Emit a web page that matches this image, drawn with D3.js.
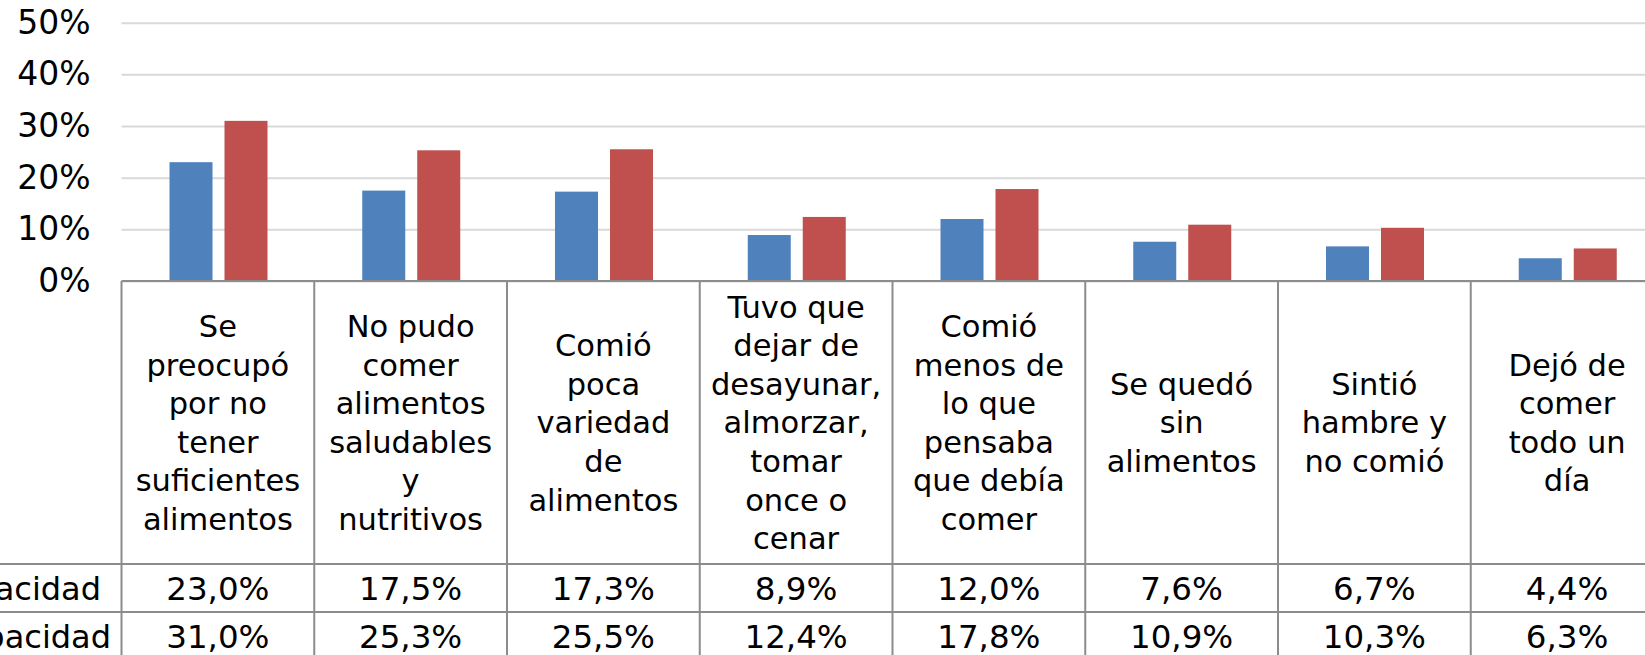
<!DOCTYPE html>
<html>
<head>
<meta charset="utf-8">
<script src="https://cdn.jsdelivr.net/npm/d3@7"></script>
<style>
  html, body { margin: 0; padding: 0; background: #fff; overflow: hidden; }
  svg { display: block; font-family: "DejaVu Sans", Verdana, sans-serif; }
</style>
</head>
<body>
<svg id="chart" width="1645" height="655"></svg>
<script>
// ---- Data ----
const categories = [
  "Se preocupó por no tener suficientes alimentos",
  "No pudo comer alimentos saludables y nutritivos",
  "Comió poca variedad de alimentos",
  "Tuvo que dejar de desayunar, almorzar, tomar once o cenar",
  "Comió menos de lo que pensaba que debía comer",
  "Se quedó sin alimentos",
  "Sintió hambre y no comió",
  "Dejó de comer todo un día"
];
const categoryLines = [
  ["Se", "preocupó", "por no", "tener", "suficientes", "alimentos"],
  ["No pudo", "comer", "alimentos", "saludables", "y", "nutritivos"],
  ["Comió", "poca", "variedad", "de", "alimentos"],
  ["Tuvo que", "dejar de", "desayunar,", "almorzar,", "tomar", "once o", "cenar"],
  ["Comió", "menos de", "lo que", "pensaba", "que debía", "comer"],
  ["Se quedó", "sin", "alimentos"],
  ["Sintió", "hambre y", "no comió"],
  ["Dejó de", "comer", "todo un", "día"]
];
const seriesNames = ["acidad", "pacidad"];   // visible (cropped) row labels
const series1 = [0.230, 0.175, 0.173, 0.089, 0.120, 0.076, 0.067, 0.044];
const series2 = [0.310, 0.253, 0.255, 0.124, 0.178, 0.109, 0.103, 0.063];
const yTicks = [0, 0.1, 0.2, 0.3, 0.4, 0.5];
const colors = ["#4F81BD", "#C0504D"];

// ---- Layout ----
const W = 1645, H = 655;
const plotLeft = 121.5, plotRight = 1663.5;
const yTop = 22.7, yBase = 281;
const rowLines = [564, 612, 660];

const svg = d3.select("#chart");
const locale = d3.formatLocale({ decimal: ",", thousands: ".", grouping: [3], currency: ["$", ""] });
const fmtVal = locale.format(".1%");
const fmtTick = locale.format(".0%");

const x0 = d3.scaleBand().domain(categories).range([plotLeft, plotRight]).padding(0);
const x1 = d3.scaleBand().domain([0, 1]).range([48, 146]).paddingInner(0.218).paddingOuter(0);
const y = d3.scaleLinear().domain([0, 0.5]).range([yBase, yTop]);

// gridlines + y labels
const yAxis = d3.axisLeft(y)
  .tickValues(yTicks)
  .tickFormat(fmtTick)
  .tickSizeInner(-(plotRight - plotLeft))
  .tickSizeOuter(0)
  .tickPadding(31);
const gy = svg.append("g").attr("transform", `translate(${plotLeft},0)`).call(yAxis);
gy.select(".domain").remove();
gy.selectAll(".tick line").attr("stroke", "#d9d9d9").attr("stroke-width", 2);
gy.selectAll(".tick text")
  .attr("fill", "#000")
  .style("font-size", "33px")
  .style("font-family", "'DejaVu Sans', Verdana, sans-serif");

// bars
const data = categories.map((c, i) => ({ c, vals: [series1[i], series2[i]] }));
const groups = svg.append("g").selectAll("g").data(data).join("g")
  .attr("transform", d => `translate(${x0(d.c)},0)`);
groups.selectAll("rect").data(d => d.vals.map((v, k) => ({ v, k }))).join("rect")
  .attr("x", d => x1(d.k))
  .attr("width", x1.bandwidth())
  .attr("y", d => y(d.v))
  .attr("height", d => y(0) - y(d.v))
  .attr("fill", d => colors[d.k]);

// axis line / table top
const lineColor = "#8c8c8c";
svg.append("line")
  .attr("x1", plotLeft).attr("x2", plotRight)
  .attr("y1", yBase).attr("y2", yBase)
  .attr("stroke", lineColor).attr("stroke-width", 2);

// table verticals
const bounds = categories.map(c => x0(c)).concat([x0(categories[categories.length - 1]) + x0.bandwidth()]);
svg.append("g").selectAll("line").data(bounds).join("line")
  .attr("x1", d => d).attr("x2", d => d)
  .attr("y1", yBase).attr("y2", H + 10)
  .attr("stroke", lineColor).attr("stroke-width", 2);

// table horizontals
svg.append("g").selectAll("line").data(rowLines).join("line")
  .attr("x1", 0).attr("x2", plotRight)
  .attr("y1", d => d).attr("y2", d => d)
  .attr("stroke", lineColor).attr("stroke-width", 2);

// category labels (centered in header cell)
const lh = 38.6;
const headCenter = (yBase + rowLines[0]) / 2;
const catG = svg.append("g")
  .style("font-size", "30.5px")
  .attr("text-anchor", "middle")
  .attr("fill", "#000");
categories.forEach((c, i) => {
  const lines = categoryLines[i];
  const n = lines.length;
  const cx = x0(c) + x0.bandwidth() / 2;
  const t = catG.append("text").attr("x", cx).attr("y", headCenter);
  lines.forEach((ln, j) => {
    t.append("tspan")
      .attr("x", cx)
      .attr("y", headCenter + (j - (n - 1) / 2) * lh)
      .attr("dy", "0.36em")
      .text(ln);
  });
});

// table values
const seriesData = [series1, series2];
seriesData.forEach((s, r) => {
  const cy = (rowLines[r] + rowLines[r + 1]) / 2;
  svg.append("g").selectAll("text").data(s).join("text")
    .attr("x", (d, i) => x0(categories[i]) + x0.bandwidth() / 2)
    .attr("y", cy)
    .attr("dy", "0.36em")
    .attr("text-anchor", "middle")
    .style("font-size", "32.5px")
    .attr("fill", "#000")
    .text(d => fmtVal(d));
});

// row labels (cropped at the left edge in the reference)
const labelEnds = [101, 111];
seriesNames.forEach((name, r) => {
  const cy = (rowLines[r] + rowLines[r + 1]) / 2;
  svg.append("text")
    .attr("x", labelEnds[r])
    .attr("y", cy)
    .attr("dy", "0.36em")
    .attr("text-anchor", "end")
    .style("font-size", "32px")
    .attr("fill", "#000")
    .text(name);
});
</script>
</body>
</html>
